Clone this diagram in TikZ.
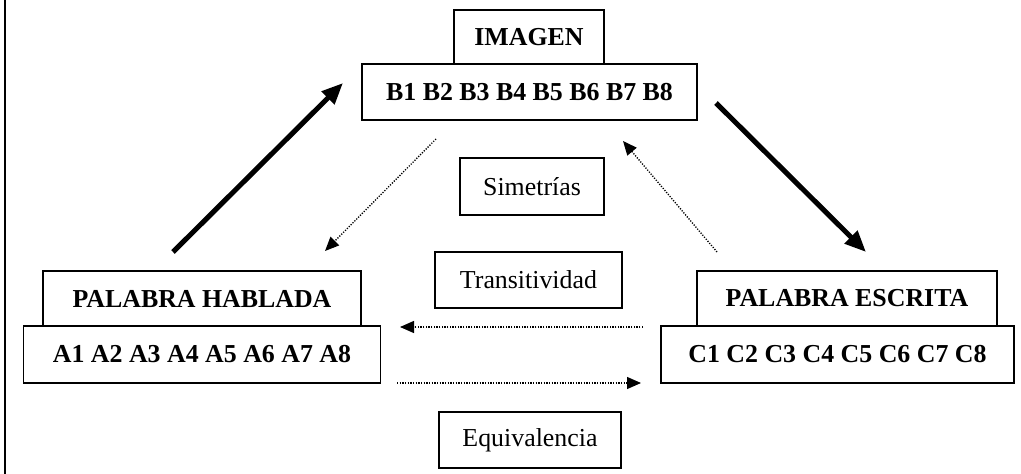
\documentclass[tikz,border=0pt]{standalone}
\usepackage{fontspec}
\setmainfont{Liberation Serif}
\usetikzlibrary{arrows.meta}
\begin{document}
\begin{tikzpicture}[x=0.75pt,y=-0.75pt,
  box/.style={draw,line width=1.4pt,rectangle,inner sep=0pt,align=center,
    font=\fontsize{19.4}{23}\selectfont},
  boldbox/.style={box,font=\fontsize{19.4}{23}\selectfont\bfseries},
  thickarrow/.style={line width=3.8pt,-{Triangle[length=16pt,width=13pt]}},
  dotarrow/.style={line width=1pt,dash pattern=on 0.9pt off 1.1pt,-{Triangle[length=10.5pt,width=9pt]}}]
\useasboundingbox (0,0) rectangle (1021,474);
\draw[line width=1.6pt] (5,0) -- (5,474);
% top group
\node[boldbox,minimum width=150*0.75pt,minimum height=54*0.75pt] (imagen) at (529,37) {IMAGEN};
\node[boldbox,minimum width=335*0.75pt,minimum height=56*0.75pt] (bset) at (529.5,92) {B1 B2 B3 B4 B5 B6 B7 B8};
% left group
\node[boldbox,minimum width=318*0.75pt,minimum height=55*0.75pt] (hablada) at (202,298.5) {PALABRA HABLADA};
\node[boldbox,minimum width=357*0.75pt,minimum height=57*0.75pt] (aset) at (202,354.5) {A1 A2 A3 A4 A5 A6 A7 A8};
% right group
\node[boldbox,minimum width=300*0.75pt,minimum height=55*0.75pt] (escrita) at (847,298.5) {PALABRA ESCRITA};
\node[boldbox,minimum width=353*0.75pt,minimum height=57*0.75pt] (cset) at (837.5,354.5) {C1 C2 C3 C4 C5 C6 C7 C8};
% labels
\node[box,minimum width=144*0.75pt,minimum height=57*0.75pt] (sim) at (532,186.5) {Simetrías};
\node[box,minimum width=187*0.75pt,minimum height=56*0.75pt] (trans) at (528.5,280) {Transitividad};
\node[box,minimum width=182*0.75pt,minimum height=56*0.75pt] (equiv) at (530,440) {Equivalencia};
% arrow end points
\coordinate (t1a) at (173,252);
\coordinate (t1b) at (343,83);
\coordinate (t2a) at (716,103);
\coordinate (t2b) at (866,252);
\coordinate (d1a) at (436,139);
\coordinate (d1b) at (325,251);
\coordinate (d2a) at (717,252);
\coordinate (d2b) at (623,141);
\coordinate (d3a) at (643,327);
\coordinate (d3b) at (400,327);
\coordinate (d4a) at (397,383);
\coordinate (d4b) at (641,383);
\draw[thickarrow] (t1a) -- (t1b);
\draw[thickarrow] (t2a) -- (t2b);
\draw[dotarrow] (d1a) -- (d1b);
\draw[dotarrow] (d2a) -- (d2b);
\draw[dotarrow] (d3a) -- (d3b);
\draw[dotarrow] (d4a) -- (d4b);
\end{tikzpicture}
\end{document}
